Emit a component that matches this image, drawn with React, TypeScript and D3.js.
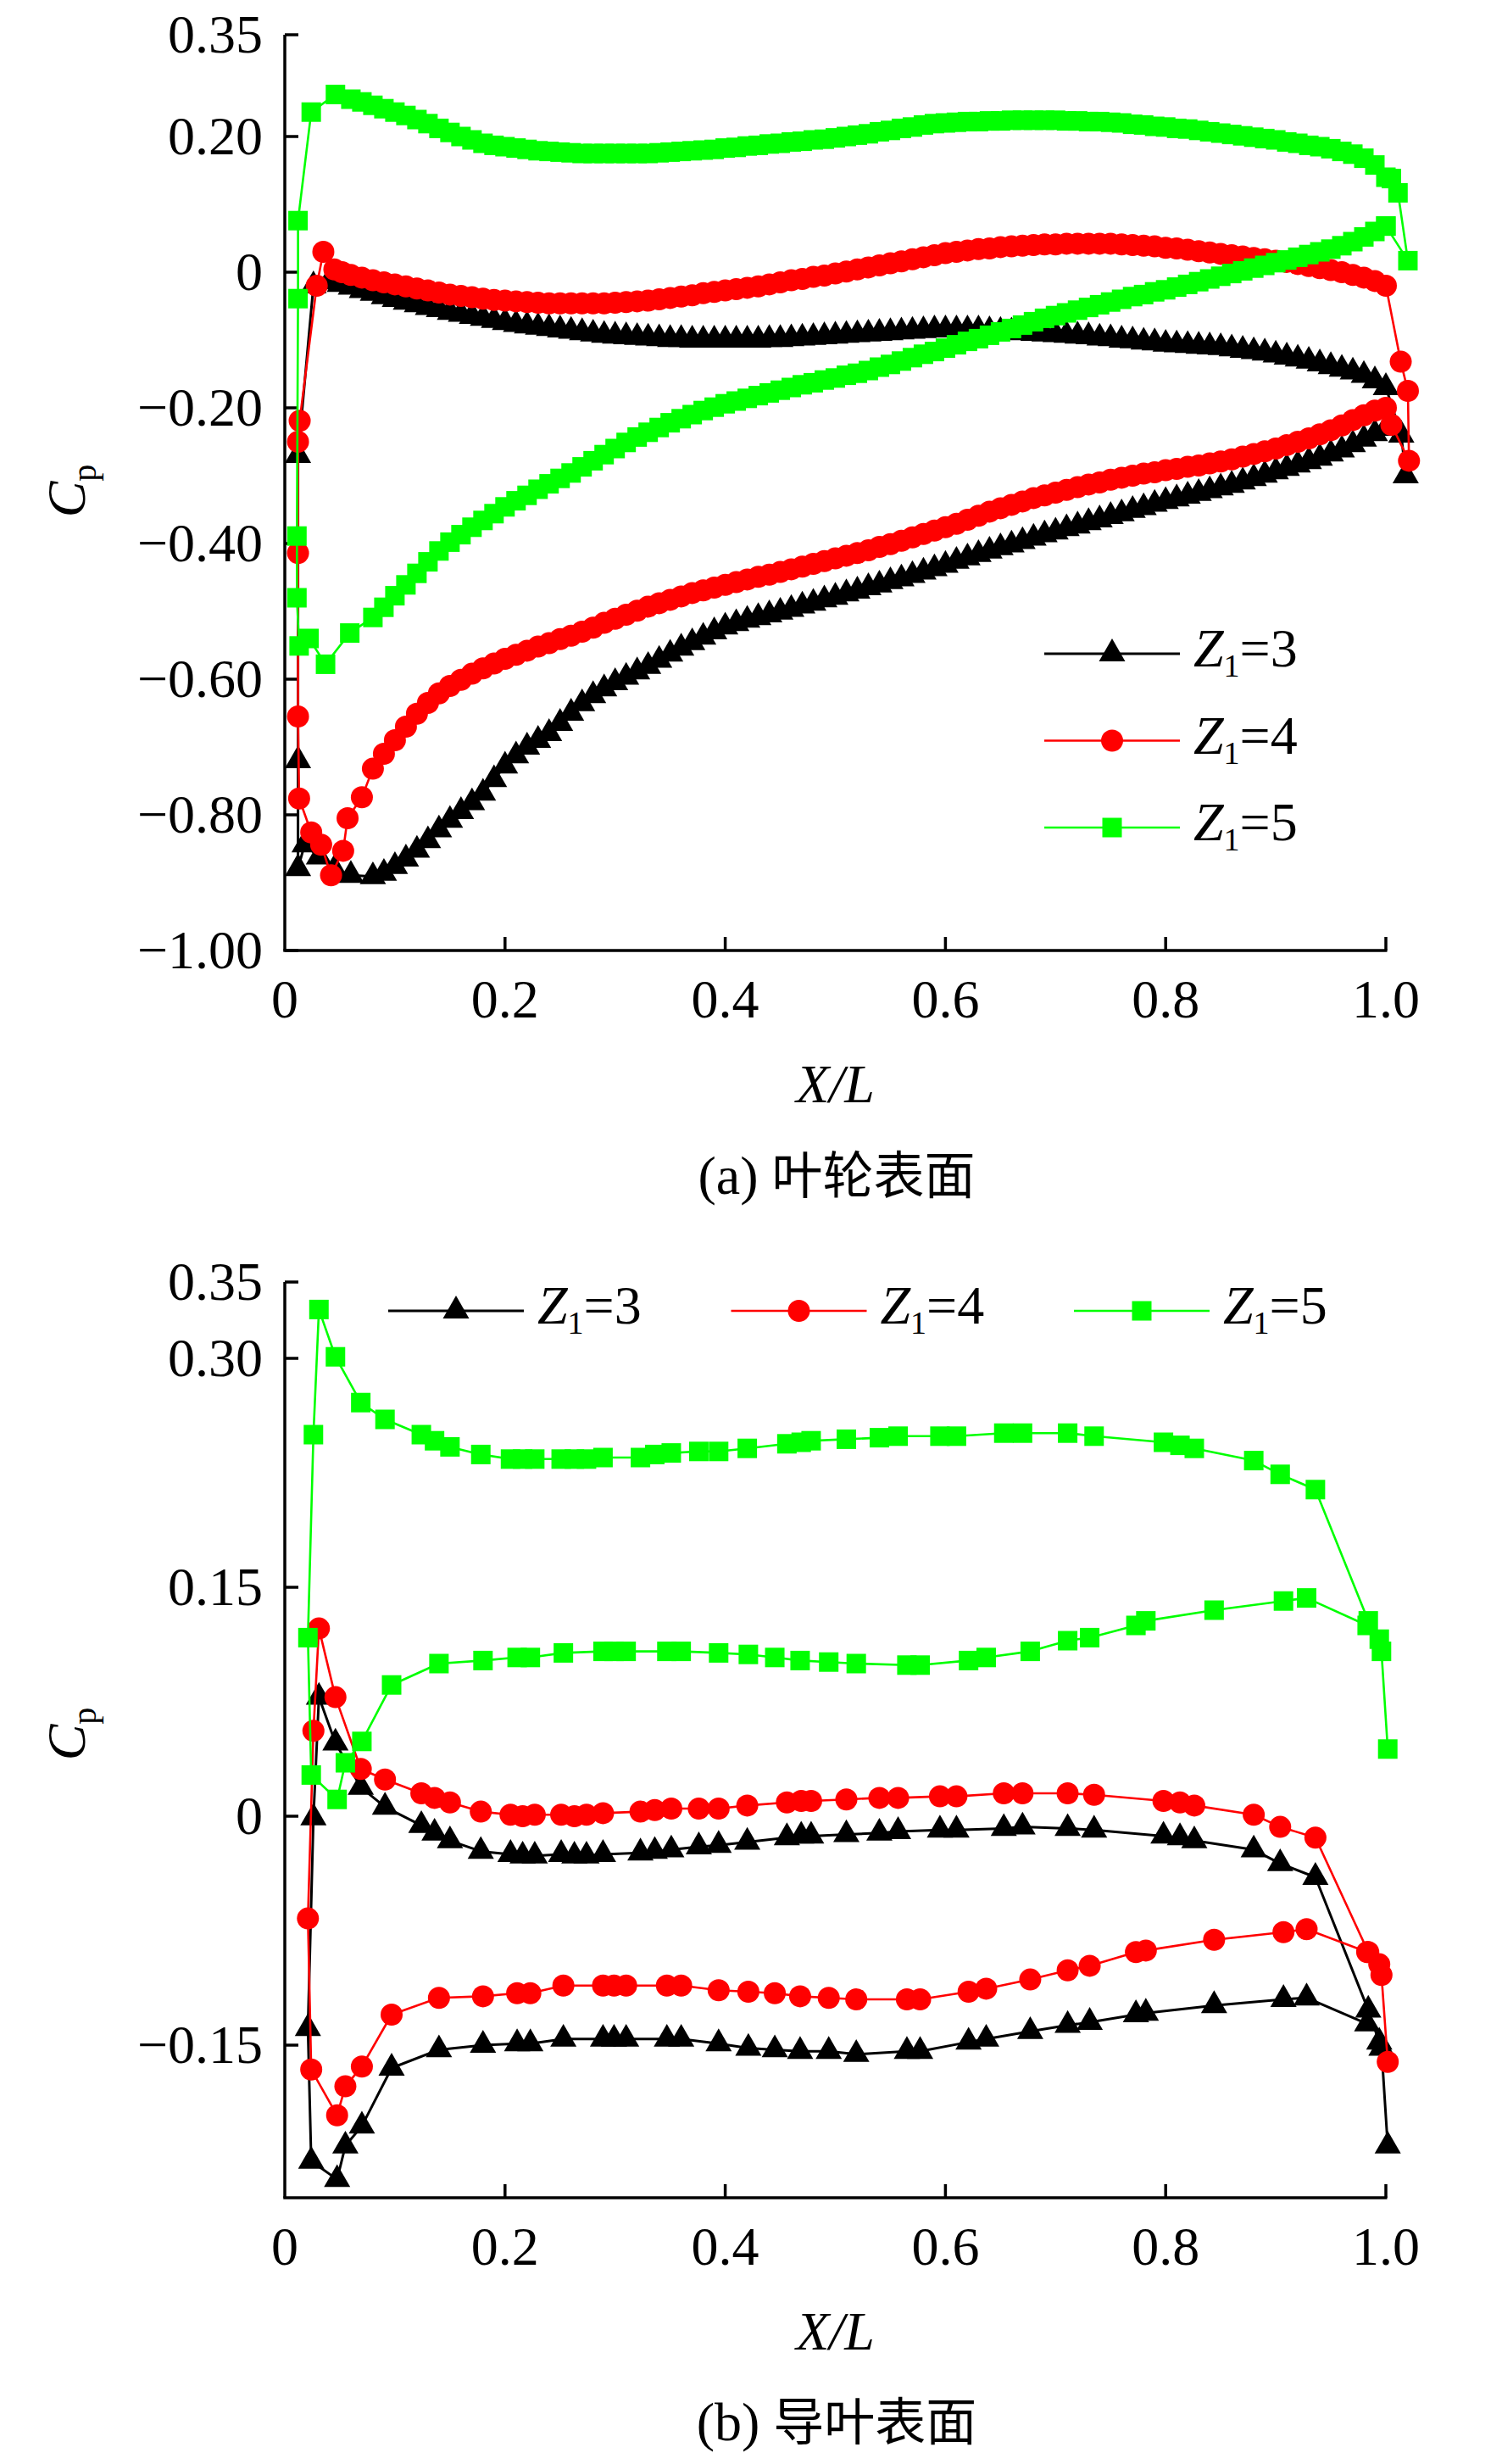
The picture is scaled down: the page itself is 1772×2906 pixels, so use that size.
import React from 'react';
import * as d3 from 'd3';

const W = 1772;
const H = 2906;

// ---------------- (a) Impeller surface ----------------
const IMP_X_UPPER = [0.06, 0.07, 0.08, 0.09, 0.10, 0.11, 0.12, 0.13, 0.14, 0.15, 0.16, 0.17, 0.18, 0.19, 0.20, 0.21, 0.22, 0.23, 0.24, 0.25, 0.26, 0.27, 0.28, 0.29, 0.30, 0.31, 0.32, 0.33, 0.34, 0.35, 0.36, 0.37, 0.38, 0.39, 0.40, 0.41, 0.42, 0.43, 0.44, 0.45, 0.46, 0.47, 0.48, 0.49, 0.50, 0.51, 0.52, 0.53, 0.54, 0.55, 0.56, 0.57, 0.58, 0.59, 0.60, 0.61, 0.62, 0.63, 0.64, 0.65, 0.66, 0.67, 0.68, 0.69, 0.70, 0.71, 0.72, 0.73, 0.74, 0.75, 0.76, 0.77, 0.78, 0.79, 0.80, 0.81, 0.82, 0.83, 0.84, 0.85, 0.86, 0.87, 0.88, 0.89, 0.90, 0.91, 0.92, 0.93, 0.94, 0.95, 0.96, 0.97, 0.98, 0.99, 1.00];
const IMP_X_LOWER = [0.08, 0.09, 0.10, 0.11, 0.12, 0.13, 0.14, 0.15, 0.16, 0.17, 0.18, 0.19, 0.20, 0.21, 0.22, 0.23, 0.24, 0.25, 0.26, 0.27, 0.28, 0.29, 0.30, 0.31, 0.32, 0.33, 0.34, 0.35, 0.36, 0.37, 0.38, 0.39, 0.40, 0.41, 0.42, 0.43, 0.44, 0.45, 0.46, 0.47, 0.48, 0.49, 0.50, 0.51, 0.52, 0.53, 0.54, 0.55, 0.56, 0.57, 0.58, 0.59, 0.60, 0.61, 0.62, 0.63, 0.64, 0.65, 0.66, 0.67, 0.68, 0.69, 0.70, 0.71, 0.72, 0.73, 0.74, 0.75, 0.76, 0.77, 0.78, 0.79, 0.80, 0.81, 0.82, 0.83, 0.84, 0.85, 0.86, 0.87, 0.88, 0.89, 0.90, 0.91, 0.92, 0.93, 0.94, 0.95, 0.96, 0.97, 0.98, 0.99, 1.00];

const IMP_Z3_UPPER = [-0.022, -0.027, -0.031, -0.036, -0.040, -0.044, -0.048, -0.052, -0.055, -0.059, -0.062, -0.065, -0.068, -0.071, -0.074, -0.077, -0.079, -0.081, -0.083, -0.085, -0.087, -0.089, -0.091, -0.093, -0.094, -0.095, -0.096, -0.097, -0.098, -0.099, -0.099, -0.100, -0.100, -0.100, -0.100, -0.100, -0.100, -0.100, -0.099, -0.099, -0.098, -0.097, -0.096, -0.095, -0.094, -0.093, -0.092, -0.091, -0.090, -0.089, -0.088, -0.087, -0.086, -0.085, -0.085, -0.085, -0.085, -0.085, -0.086, -0.087, -0.088, -0.089, -0.090, -0.091, -0.092, -0.093, -0.094, -0.095, -0.097, -0.098, -0.100, -0.101, -0.103, -0.104, -0.106, -0.107, -0.108, -0.109, -0.110, -0.111, -0.113, -0.115, -0.117, -0.119, -0.122, -0.125, -0.128, -0.131, -0.135, -0.139, -0.143, -0.147, -0.152, -0.160, -0.170];
const IMP_Z3_LOWER = [-0.891, -0.886, -0.876, -0.865, -0.852, -0.838, -0.822, -0.808, -0.795, -0.782, -0.768, -0.748, -0.728, -0.713, -0.700, -0.690, -0.680, -0.665, -0.650, -0.636, -0.624, -0.614, -0.605, -0.597, -0.589, -0.581, -0.572, -0.563, -0.554, -0.546, -0.538, -0.530, -0.523, -0.518, -0.513, -0.509, -0.505, -0.501, -0.497, -0.492, -0.488, -0.483, -0.479, -0.474, -0.470, -0.465, -0.461, -0.456, -0.452, -0.447, -0.442, -0.437, -0.432, -0.426, -0.421, -0.416, -0.411, -0.406, -0.402, -0.397, -0.392, -0.387, -0.383, -0.378, -0.374, -0.369, -0.365, -0.360, -0.356, -0.351, -0.347, -0.342, -0.338, -0.334, -0.330, -0.326, -0.322, -0.318, -0.314, -0.309, -0.304, -0.299, -0.294, -0.289, -0.284, -0.279, -0.274, -0.268, -0.262, -0.254, -0.246, -0.238, -0.230];
const IMP_Z3_LE: [number, number][] = [[0.060, -0.889], [0.045, -0.880], [0.031, -0.862], [0.018, -0.844], [0.012, -0.879], [0.012, -0.720], [0.012, -0.270], [0.026, -0.020], [0.040, -0.014], [0.050, -0.018]];
const IMP_Z3_TE: [number, number][] = [[1.014, -0.240], [1.018, -0.300]];

const IMP_Z4_UPPER = [-0.004, -0.008, -0.012, -0.015, -0.018, -0.021, -0.024, -0.027, -0.030, -0.033, -0.035, -0.037, -0.039, -0.041, -0.042, -0.043, -0.044, -0.045, -0.046, -0.046, -0.046, -0.046, -0.046, -0.046, -0.045, -0.044, -0.043, -0.042, -0.040, -0.038, -0.036, -0.034, -0.031, -0.029, -0.027, -0.025, -0.023, -0.021, -0.018, -0.015, -0.012, -0.010, -0.007, -0.005, -0.002, 0.001, 0.004, 0.007, 0.010, 0.013, 0.016, 0.019, 0.022, 0.025, 0.028, 0.030, 0.032, 0.034, 0.035, 0.037, 0.038, 0.039, 0.040, 0.041, 0.041, 0.042, 0.042, 0.042, 0.042, 0.042, 0.041, 0.040, 0.039, 0.038, 0.036, 0.035, 0.033, 0.031, 0.029, 0.027, 0.025, 0.023, 0.021, 0.019, 0.017, 0.015, 0.012, 0.009, 0.006, 0.003, 0.000, -0.004, -0.008, -0.013, -0.020];
const IMP_Z4_LOWER = [-0.732, -0.710, -0.690, -0.670, -0.651, -0.635, -0.621, -0.610, -0.601, -0.592, -0.584, -0.577, -0.570, -0.564, -0.558, -0.552, -0.547, -0.541, -0.536, -0.530, -0.524, -0.517, -0.511, -0.505, -0.499, -0.493, -0.488, -0.483, -0.478, -0.473, -0.469, -0.465, -0.461, -0.457, -0.453, -0.449, -0.446, -0.442, -0.438, -0.434, -0.430, -0.426, -0.422, -0.418, -0.414, -0.410, -0.405, -0.401, -0.396, -0.391, -0.386, -0.381, -0.376, -0.371, -0.365, -0.359, -0.353, -0.348, -0.343, -0.338, -0.333, -0.329, -0.325, -0.321, -0.317, -0.313, -0.310, -0.306, -0.303, -0.300, -0.297, -0.295, -0.292, -0.290, -0.287, -0.285, -0.282, -0.279, -0.276, -0.272, -0.268, -0.264, -0.260, -0.255, -0.250, -0.245, -0.239, -0.233, -0.226, -0.218, -0.211, -0.204, -0.200];
const IMP_Z4_LE: [number, number][] = [[0.070, -0.774], [0.057, -0.805], [0.053, -0.853], [0.042, -0.889], [0.033, -0.844], [0.024, -0.826], [0.013, -0.776], [0.012, -0.655], [0.012, -0.414], [0.012, -0.250], [0.0135, -0.219], [0.029, -0.020], [0.035, 0.030], [0.045, 0.004], [0.052, 0.000]];
const IMP_Z4_TE: [number, number][] = [[1.0135, -0.132], [1.020, -0.175], [1.021, -0.278], [1.005, -0.225]];

const IMP_Z5_UPPER = [0.255, 0.251, 0.246, 0.241, 0.236, 0.231, 0.225, 0.219, 0.212, 0.206, 0.200, 0.195, 0.190, 0.187, 0.185, 0.183, 0.181, 0.179, 0.178, 0.177, 0.176, 0.175, 0.175, 0.175, 0.175, 0.175, 0.175, 0.175, 0.176, 0.177, 0.178, 0.179, 0.180, 0.181, 0.183, 0.184, 0.186, 0.187, 0.189, 0.190, 0.192, 0.193, 0.195, 0.196, 0.198, 0.200, 0.202, 0.204, 0.207, 0.209, 0.212, 0.214, 0.217, 0.219, 0.220, 0.221, 0.222, 0.222, 0.223, 0.223, 0.224, 0.224, 0.224, 0.224, 0.224, 0.223, 0.223, 0.222, 0.222, 0.221, 0.220, 0.218, 0.217, 0.215, 0.214, 0.212, 0.211, 0.209, 0.207, 0.205, 0.203, 0.201, 0.199, 0.197, 0.195, 0.192, 0.190, 0.187, 0.185, 0.182, 0.178, 0.174, 0.168, 0.158, 0.140];
const IMP_Z5_LOWER = [-0.509, -0.494, -0.477, -0.461, -0.444, -0.427, -0.411, -0.398, -0.387, -0.376, -0.366, -0.356, -0.346, -0.337, -0.329, -0.320, -0.312, -0.304, -0.296, -0.287, -0.278, -0.269, -0.260, -0.251, -0.243, -0.236, -0.229, -0.222, -0.216, -0.210, -0.204, -0.199, -0.194, -0.190, -0.186, -0.182, -0.178, -0.174, -0.170, -0.166, -0.163, -0.159, -0.156, -0.152, -0.149, -0.145, -0.140, -0.136, -0.131, -0.126, -0.121, -0.117, -0.112, -0.107, -0.102, -0.098, -0.093, -0.088, -0.083, -0.078, -0.073, -0.068, -0.064, -0.060, -0.056, -0.052, -0.048, -0.044, -0.040, -0.036, -0.033, -0.029, -0.026, -0.022, -0.018, -0.014, -0.010, -0.006, -0.002, 0.002, 0.006, 0.010, 0.014, 0.018, 0.022, 0.026, 0.030, 0.034, 0.039, 0.045, 0.052, 0.060, 0.068];
const IMP_Z5_LE: [number, number][] = [[0.059, -0.532], [0.037, -0.578], [0.022, -0.540], [0.013, -0.551], [0.011, -0.480], [0.011, -0.389], [0.012, -0.039], [0.012, 0.076], [0.024, 0.236], [0.046, 0.262]];
const IMP_Z5_TE: [number, number][] = [[1.005, 0.138], [1.011, 0.117], [1.020, 0.017], [1.000, 0.068]];

// ---------------- (b) Guide vane surface ----------------
const VANE_X_UPPER = [0.031, 0.046, 0.069, 0.091, 0.124, 0.136, 0.150, 0.178, 0.205, 0.216, 0.227, 0.251, 0.263, 0.274, 0.289, 0.323, 0.336, 0.351, 0.376, 0.394, 0.420, 0.456, 0.469, 0.478, 0.510, 0.540, 0.557, 0.595, 0.610, 0.653, 0.670, 0.711, 0.735, 0.798, 0.813, 0.826, 0.880, 0.904, 0.936, 0.984];
const VANE_X_LOWER = [0.097, 0.140, 0.180, 0.211, 0.223, 0.253, 0.289, 0.299, 0.310, 0.347, 0.360, 0.394, 0.421, 0.445, 0.468, 0.494, 0.519, 0.565, 0.577, 0.621, 0.637, 0.677, 0.711, 0.731, 0.773, 0.782, 0.844, 0.907, 0.928, 0.983];
const VANE_X_LE = [0.026, 0.021, 0.024, 0.0475, 0.055, 0.070];
const VANE_X_TE = [1.0017, 0.996, 0.994];

const VANE_Z3_UPPER = [0.078, 0.048, 0.019, 0.006, -0.006, -0.011, -0.016, -0.023, -0.025, -0.026, -0.026, -0.025, -0.026, -0.026, -0.025, -0.024, -0.023, -0.022, -0.020, -0.019, -0.017, -0.014, -0.013, -0.013, -0.012, -0.011, -0.010, -0.009, -0.009, -0.008, -0.007, -0.008, -0.009, -0.013, -0.014, -0.016, -0.022, -0.031, -0.040, -0.127];
const VANE_Z3_LOWER = [-0.165, -0.153, -0.150, -0.149, -0.149, -0.146, -0.146, -0.146, -0.146, -0.146, -0.146, -0.149, -0.152, -0.153, -0.154, -0.154, -0.156, -0.154, -0.154, -0.148, -0.146, -0.141, -0.137, -0.135, -0.130, -0.129, -0.124, -0.120, -0.119, -0.136];
const VANE_Z3_LE = [-0.001, -0.139, -0.226, -0.238, -0.216, -0.203];
const VANE_Z3_TE = [-0.216, -0.152, -0.148];

const VANE_Z4_UPPER = [0.123, 0.078, 0.031, 0.024, 0.015, 0.012, 0.009, 0.003, 0.001, 0.000, 0.001, 0.001, 0.000, 0.001, 0.002, 0.003, 0.004, 0.005, 0.005, 0.005, 0.007, 0.009, 0.010, 0.010, 0.011, 0.012, 0.012, 0.013, 0.013, 0.015, 0.015, 0.015, 0.014, 0.010, 0.009, 0.007, 0.001, -0.007, -0.014, -0.089];
const VANE_Z4_LOWER = [-0.130, -0.119, -0.118, -0.116, -0.116, -0.111, -0.111, -0.111, -0.111, -0.111, -0.111, -0.114, -0.115, -0.116, -0.118, -0.119, -0.120, -0.120, -0.120, -0.115, -0.113, -0.107, -0.101, -0.098, -0.089, -0.088, -0.081, -0.076, -0.074, -0.089];
const VANE_Z4_LE = [0.056, -0.067, -0.166, -0.196, -0.177, -0.164];
const VANE_Z4_TE = [-0.161, -0.104, -0.097];

const VANE_Z5_UPPER = [0.332, 0.301, 0.271, 0.260, 0.250, 0.246, 0.242, 0.237, 0.234, 0.234, 0.234, 0.234, 0.234, 0.234, 0.235, 0.235, 0.237, 0.238, 0.239, 0.239, 0.241, 0.244, 0.245, 0.246, 0.247, 0.248, 0.249, 0.249, 0.249, 0.251, 0.251, 0.251, 0.249, 0.245, 0.243, 0.241, 0.233, 0.224, 0.214, 0.128];
const VANE_Z5_LOWER = [0.086, 0.100, 0.102, 0.104, 0.104, 0.107, 0.108, 0.108, 0.108, 0.108, 0.108, 0.107, 0.106, 0.104, 0.102, 0.101, 0.100, 0.099, 0.099, 0.102, 0.104, 0.108, 0.115, 0.117, 0.125, 0.128, 0.135, 0.141, 0.143, 0.125];
const VANE_Z5_LE = [0.250, 0.117, 0.027, 0.011, 0.035, 0.049];
const VANE_Z5_TE = [0.044, 0.108, 0.116];

// ---------------- ticks & labels ----------------
const X_TICKS = [0, 0.2, 0.4, 0.6, 0.8, 1.0];
const X_TICK_LABELS = ['0', '0.2', '0.4', '0.6', '0.8', '1.0'];
const TOP_Y_TICKS = [0.35, 0.2, 0, -0.2, -0.4, -0.6, -0.8, -1.0];
const TOP_Y_LABELS = ['0.35', '0.20', '0', '\u22120.20', '\u22120.40', '\u22120.60', '\u22120.80', '\u22121.00'];
const BOT_Y_TICKS = [0.35, 0.3, 0.15, 0, -0.15];
const BOT_Y_LABELS = ['0.35', '0.30', '0.15', '0', '\u22120.15'];
const SERIES_NAMES = ['3', '4', '5'];

const SERIF = '"Liberation Serif", "Times New Roman", Times, serif';
const CJK = '"Noto Sans CJK SC", "Noto Sans CJK JP", sans-serif';

type Pt = [number, number];

const zip = (xs: number[], ys: number[]): Pt[] => xs.map((x, i) => [x, ys[i]] as Pt);

function impellerPath(upper: number[], lower: number[], le: Pt[], te: Pt[]): Pt[] {
  const low = zip(IMP_X_LOWER, lower).reverse();
  const up = zip(IMP_X_UPPER, upper);
  return [...low, ...le, ...up, ...te];
}

function vanePath(upper: number[], lower: number[], le: number[], te: number[]): Pt[] {
  const tail = zip(VANE_X_TE, te);
  const up = zip(VANE_X_UPPER, upper).reverse();
  const lead = zip(VANE_X_LE, le);
  const low = zip(VANE_X_LOWER, lower);
  return [...tail, ...up, ...lead, ...low];
}

const STYLES = [
  { color: '#000000', symbol: d3.symbolTriangle, size: 416, lw: 3 },
  { color: '#ff0000', symbol: d3.symbolCircle, size: 531, lw: 2.6 },
  { color: '#00ff00', symbol: d3.symbolSquare, size: 529, lw: 2.6 },
];

const xScale = d3.scaleLinear().domain([0, 1]).range([336, 1635]);
const yTop = d3.scaleLinear().domain([-1, 0.35]).range([1121, 41]);
const yBot = d3.scaleLinear().domain([-0.25, 0.35]).range([2592, 1512]);

const TOP_DATA: Pt[][] = [
  impellerPath(IMP_Z3_UPPER, IMP_Z3_LOWER, IMP_Z3_LE, IMP_Z3_TE),
  impellerPath(IMP_Z4_UPPER, IMP_Z4_LOWER, IMP_Z4_LE, IMP_Z4_TE),
  impellerPath(IMP_Z5_UPPER, IMP_Z5_LOWER, IMP_Z5_LE, IMP_Z5_TE),
];
const BOT_DATA: Pt[][] = [
  vanePath(VANE_Z3_UPPER, VANE_Z3_LOWER, VANE_Z3_LE, VANE_Z3_TE),
  vanePath(VANE_Z4_UPPER, VANE_Z4_LOWER, VANE_Z4_LE, VANE_Z4_TE),
  vanePath(VANE_Z5_UPPER, VANE_Z5_LOWER, VANE_Z5_LE, VANE_Z5_TE),
];

function symbolPath(i: number) {
  return d3.symbol().type(STYLES[i].symbol).size(STYLES[i].size)() as string;
}

function Series({ data, y, i }: { data: Pt[]; y: d3.ScaleLinear<number, number>; i: number }) {
  const line = d3.line<Pt>().x((d) => xScale(d[0])).y((d) => y(d[1]));
  const st = STYLES[i];
  const sp = symbolPath(i);
  return (
    <g>
      <path d={line(data) as string} fill="none" stroke={st.color} strokeWidth={st.lw} strokeLinejoin="round" />
      {data.map((d, k) => (
        <path key={k} d={sp} transform={`translate(${xScale(d[0])},${y(d[1])})`} fill={st.color} />
      ))}
    </g>
  );
}

function LegendItem({ x, y, i }: { x: number; y: number; i: number }) {
  const st = STYLES[i];
  return (
    <g>
      <line x1={x} x2={x + 160} y1={y} y2={y} stroke={st.color} strokeWidth={st.lw} />
      <path d={symbolPath(i)} transform={`translate(${x + 80},${y})`} fill={st.color} />
      <text x={x + 176} y={y + 15} fontFamily={SERIF} fontSize={64} fill="#000">
        <tspan fontStyle="italic">Z</tspan>
        <tspan fontSize={38} dy={12}>1</tspan>
        <tspan dy={-12}>={SERIES_NAMES[i]}</tspan>
      </text>
    </g>
  );
}

function Axes({ y, ticks, labels, bottom }: { y: d3.ScaleLinear<number, number>; ticks: number[]; labels: string[]; bottom: number }) {
  const [r0, r1] = y.range();
  const top = Math.min(r0, r1);
  const x0 = xScale(0);
  const x1 = xScale(1);
  return (
    <g>
      <line x1={x0} x2={x0} y1={top} y2={bottom} stroke="#000" strokeWidth={3.5} />
      <line x1={x0 - 1.75} x2={x1 + 1.5} y1={bottom} y2={bottom} stroke="#000" strokeWidth={3.5} />
      {ticks.map((t, k) => (
        <g key={k}>
          <line x1={x0} x2={x0 + 16} y1={y(t)} y2={y(t)} stroke="#000" strokeWidth={3.5} />
          <text x={310} y={y(t) + 21} textAnchor="end" fontFamily={SERIF} fontSize={64} fill="#000">
            {labels[k]}
          </text>
        </g>
      ))}
      {X_TICKS.map((t, k) => (
        <g key={k}>
          {t > 0 && <line x1={xScale(t)} x2={xScale(t)} y1={bottom} y2={bottom - 16} stroke="#000" strokeWidth={3.5} />}
          <text x={xScale(t)} y={bottom + 79} textAnchor="middle" fontFamily={SERIF} fontSize={64} fill="#000">
            {X_TICK_LABELS[k]}
          </text>
        </g>
      ))}
      <text x={(x0 + x1) / 2} y={bottom + 179} textAnchor="middle" fontFamily={SERIF} fontSize={64} fontStyle="italic" fill="#000">
        X/L
      </text>
    </g>
  );
}

function CpLabel({ cy }: { cy: number }) {
  return (
    <text transform={`translate(100,${cy}) rotate(-90)`} textAnchor="middle" fontFamily={SERIF} fontSize={64} fill="#000">
      <tspan fontStyle="italic">C</tspan>
      <tspan fontSize={40} dy={13}>p</tspan>
    </text>
  );
}

function Caption({ y, tag, zh }: { y: number; tag: string; zh: string }) {
  return (
    <text x={987} y={y} textAnchor="middle" fontSize={64} fill="#000">
      <tspan fontFamily={SERIF}>{tag} </tspan>
      <tspan fontFamily={CJK} fontSize={60}>{zh}</tspan>
    </text>
  );
}

export default function App() {
  return (
    <svg width={W} height={H} viewBox={`0 0 ${W} ${H}`} style={{ position: 'absolute', left: 0, top: 0, background: '#fff' }}>
      <rect x={0} y={0} width={W} height={H} fill="#fff" />
      {/* (a) */}
      <Axes y={yTop} ticks={TOP_Y_TICKS} labels={TOP_Y_LABELS} bottom={1121} />
      {TOP_DATA.map((d, i) => (
        <Series key={i} data={d} y={yTop} i={i} />
      ))}
      {[0, 1, 2].map((i) => (
        <LegendItem key={i} x={1232} y={771 + i * 102.5} i={i} />
      ))}
      <CpLabel cy={579} />
      <Caption y={1408} tag="(a)" zh="叶轮表面" />

      {/* (b) */}
      <Axes y={yBot} ticks={BOT_Y_TICKS} labels={BOT_Y_LABELS} bottom={2592} />
      {BOT_DATA.map((d, i) => (
        <Series key={i} data={d} y={yBot} i={i} />
      ))}
      {[0, 1, 2].map((i) => (
        <LegendItem key={i} x={458 + i * 404.5} y={1546} i={i} />
      ))}
      <CpLabel cy={2045} />
      <Caption y={2878} tag="(b)" zh="导叶表面" />
    </svg>
  );
}
